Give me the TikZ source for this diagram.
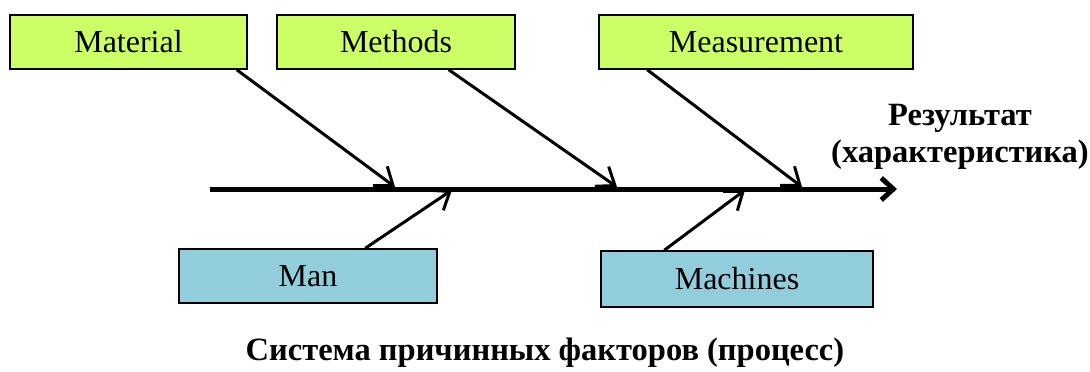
\documentclass[tikz,border=0pt]{standalone}
\usepackage{fontspec}
\setmainfont{Liberation Serif}
\usetikzlibrary{arrows.meta}
\definecolor{boxgreen}{HTML}{CCFF66}
\definecolor{boxblue}{HTML}{92CDDC}
\begin{document}
\begin{tikzpicture}[x=1pt,y=-1pt,
  cause/.style={draw=black,line width=1.5pt,minimum height=54pt,inner sep=0pt,
    font=\fontsize{32}{38}\selectfont},
  topbox/.style={cause,fill=boxgreen},
  botbox/.style={cause,fill=boxblue},
  bone/.style={line width=3pt,-{Straight Barb[length=16pt,width=24pt]}},
  spine/.style={line width=5pt,-{Straight Barb[length=12pt,width=22pt]}},
  boldlbl/.style={font=\bfseries\fontsize{32.5}{38}\selectfont,anchor=base,inner sep=0pt}]
\useasboundingbox (0,0) rectangle (1090,372);
\node[topbox,minimum width=237pt] (mat) at (128.5,42) {Material};
\node[topbox,minimum width=238pt] (met) at (396,42) {Methods};
\node[topbox,minimum width=314pt] (mea) at (756,42) {Measurement};
\node[botbox,minimum width=258pt] (man) at (308,276) {Man};
\node[botbox,minimum width=272pt,minimum height=56pt] (mac) at (737,279) {Machines};
\coordinate (s) at (210,189);
\coordinate (e) at (897,189);
\coordinate (t1) at (395,187);
\coordinate (t2) at (617,187);
\coordinate (t3) at (802,187);
\coordinate (t4) at (452,190);
\coordinate (t5) at (745,190);
\draw[spine] (s) -- (e);
\draw[bone] ([xshift=-11pt]mat.south east) -- (t1);
\draw[bone] ([xshift=-67pt]met.south east) -- (t2);
\draw[bone] ([xshift=49pt]mea.south west) -- (t3);
\draw[bone] ([xshift=187pt]man.north west) -- (t4);
\draw[bone] ([xshift=64pt]mac.north west) -- (t5);
\node[boldlbl] (res) at (960,125) {Результат};
\node[boldlbl] (har) at (960,162) {(характеристика)};
\node[boldlbl] (sys) at (545,360) {Система причинных факторов (процесс)};
\end{tikzpicture}
\end{document}
